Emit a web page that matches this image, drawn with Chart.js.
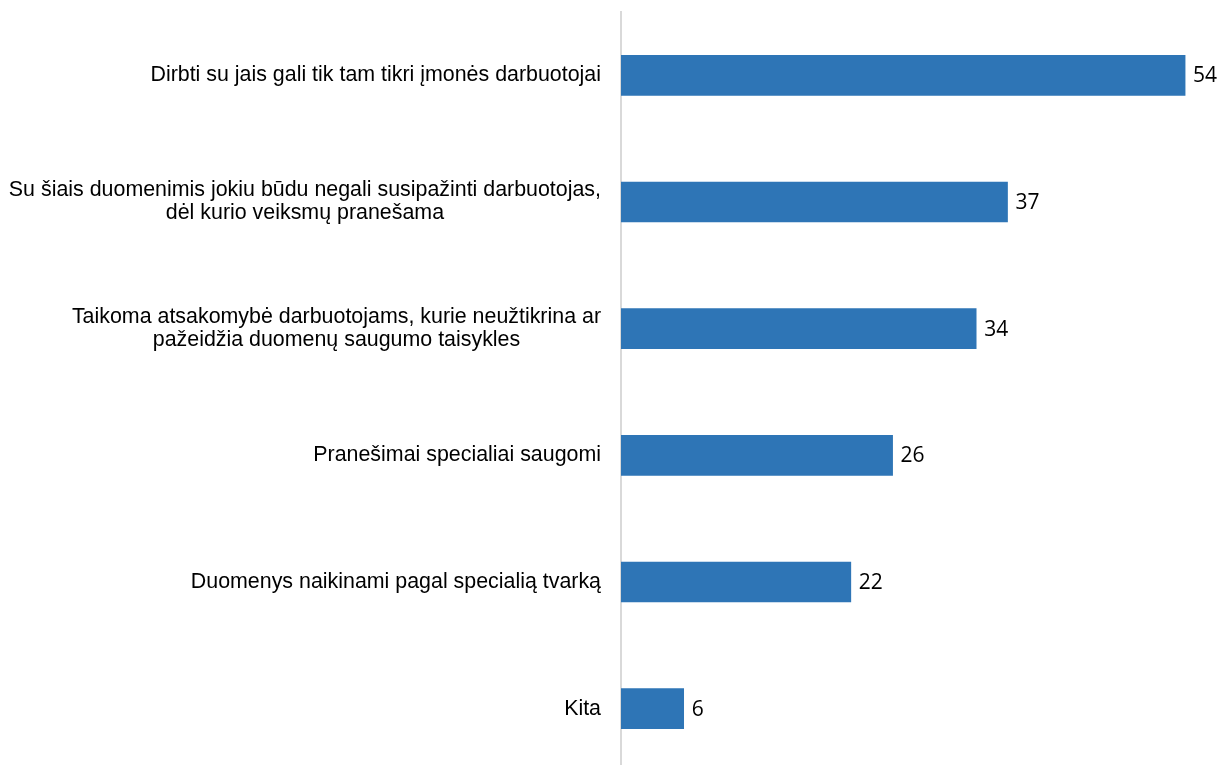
<!DOCTYPE html>
<html>
<head>
<meta charset="utf-8">
<script src="https://cdn.jsdelivr.net/npm/chart.js@4/dist/chart.umd.min.js"></script>
<style>
  html, body { margin: 0; padding: 0; background: #fff; overflow: hidden; }
  #wrap { position: relative; width: 1222px; height: 772px; }
</style>
</head>
<body>
<div id="wrap"><canvas id="chart"></canvas></div>
<script>
// Atsakymai ir reikšmės (%)
const categories = [
  ["Dirbti su jais gali tik tam tikri įmonės darbuotojai"],
  ["Su šiais duomenimis jokiu būdu negali susipažinti darbuotojas,", "dėl kurio veiksmų pranešama"],
  ["Taikoma atsakomybė darbuotojams, kurie neužtikrina ar", "pažeidžia duomenų saugumo taisykles"],
  ["Pranešimai specialiai saugomi"],
  ["Duomenys naikinami pagal specialią tvarką"],
  ["Kita"]
];
const values = [54, 37, 34, 26, 22, 6];

const BAR_COLOR = "#2E75B6";

// kairės pusės etiketės: blokas lygiuotas dešinėn, eilutės centruotos tarpusavyje
const sideLabels = {
  id: "sideLabels",
  afterDraw(chart) {
    const ctx = chart.ctx;
    const y = chart.scales.y;
    const right = chart.chartArea.left - 20;
    ctx.save();
    ctx.font = "21.4px 'Liberation Sans', Arial, sans-serif";
    ctx.fillStyle = "#000";
    ctx.textBaseline = "middle";
    ctx.textAlign = "center";
    const lh = 23;
    categories.forEach((lines, i) => {
      const cy = y.getPixelForValue(i);
      const maxW = Math.max(...lines.map(l => ctx.measureText(l).width));
      const center = right - maxW / 2;
      lines.forEach((l, j) => {
        ctx.fillText(l, center, cy + (j - (lines.length - 1) / 2) * lh);
      });
    });
    ctx.restore();
  }
};

const valueLabels = {
  id: "valueLabels",
  afterDatasetsDraw(chart) {
    const ctx = chart.ctx;
    const meta = chart.getDatasetMeta(0);
    ctx.save();
    ctx.font = "21px 'Open Sans', sans-serif";
    ctx.fillStyle = "#000";
    ctx.textAlign = "left";
    ctx.textBaseline = "middle";
    meta.data.forEach((bar, i) => {
      ctx.fillText(String(values[i]), bar.x + 8, bar.y + 1);
    });
    ctx.restore();
  }
};

new Chart(document.getElementById("chart"), {
  type: "bar",
  data: {
    labels: categories,
    datasets: [{
      data: values,
      backgroundColor: BAR_COLOR,
      barThickness: 40
    }]
  },
  options: {
    indexAxis: "y",
    responsive: true,
    maintainAspectRatio: false,
    animation: false,
    layout: { padding: { left: 613, right: 16, top: 12, bottom: 0 } },
    plugins: { legend: { display: false }, tooltip: { enabled: false } },
    scales: {
      x: { min: 0, max: 56, display: false },
      y: {
        ticks: { display: false },
        grid: { display: false },
        border: { display: true, color: "#d9d9d9", width: 2 }
      }
    }
  },
  plugins: [sideLabels, valueLabels]
});
</script>
</body>
</html>
